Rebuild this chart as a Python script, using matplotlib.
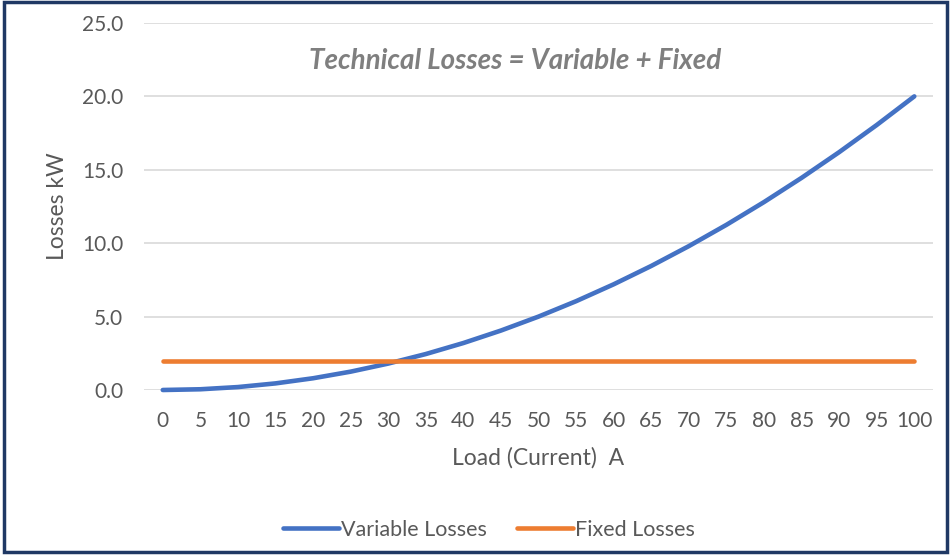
import matplotlib

matplotlib.use("Agg")
import matplotlib.pyplot as plt
from matplotlib.patches import Rectangle

plt.rcParams["font.family"] = ["Lato", "DejaVu Sans"]

# Load current (A) and losses (kW)
load_a = [0, 5, 10, 15, 20, 25, 30, 35, 40, 45, 50,
          55, 60, 65, 70, 75, 80, 85, 90, 95, 100]
variable_kw = [0.0, 0.05, 0.2, 0.45, 0.8, 1.25, 1.8, 2.45, 3.2, 4.05, 5.0,
               6.05, 7.2, 8.45, 9.8, 11.25, 12.8, 14.45, 16.2, 18.05, 20.0]
fixed_kw = [2.0] * len(load_a)
y_ticks = [0, 5, 10, 15, 20, 25]

GREY = "#595959"
BLUE = "#4472C4"
ORANGE = "#ED7D31"

fig = plt.figure(figsize=(9.53, 5.55), dpi=100)
ax = fig.add_axes([0.1511, 0.2973, 0.828, 0.6613])

ax.plot(load_a, variable_kw, color=BLUE, lw=3.3, solid_capstyle="round",
        label="Variable Losses", zorder=3)
ax.plot(load_a, fixed_kw, color=ORANGE, lw=3.3, solid_capstyle="round",
        label="Fixed Losses", zorder=3)

ax.set_xlim(-2.5, 102.5)
ax.set_ylim(0, 25)
ax.set_xticks(load_a)
ax.set_xticklabels([str(v) for v in load_a])
ax.set_yticks(y_ticks)
ax.set_yticklabels([f"{v:.1f}" for v in y_ticks])
ax.tick_params(length=0, labelsize=15, colors=GREY)
ax.tick_params(axis="x", pad=15)
ax.tick_params(axis="y", pad=15)
ax.grid(axis="y", color="#D9D9D9", lw=1.2)
ax.set_axisbelow(True)
for side in ax.spines.values():
    side.set_visible(False)
for line in ax.get_lines():
    line.set_clip_on(False)

ax.set_xlabel("Load (Current)  A", fontsize=16.5, color=GREY, labelpad=12)
ax.set_ylabel("Losses kW", fontsize=16.5, color=GREY, labelpad=10)

fig.text(0.541, 0.89, "Technical Losses = Variable + Fixed", fontsize=20,
         style="italic", fontweight="bold", color="#7F7F7F",
         ha="center", va="center")

fig.legend(loc="center", bbox_to_anchor=(0.513, 0.045), ncol=2, frameon=False,
           fontsize=15.5, labelcolor=GREY, handlelength=2.6, handletextpad=0.1,
           columnspacing=1.4)

fig.patches.append(Rectangle((0.004, 0.006), 0.99, 0.99, transform=fig.transFigure,
                             fill=False, edgecolor="#1F3864", lw=2.5))

fig.savefig("out.png", dpi=100)
plt.close(fig)
